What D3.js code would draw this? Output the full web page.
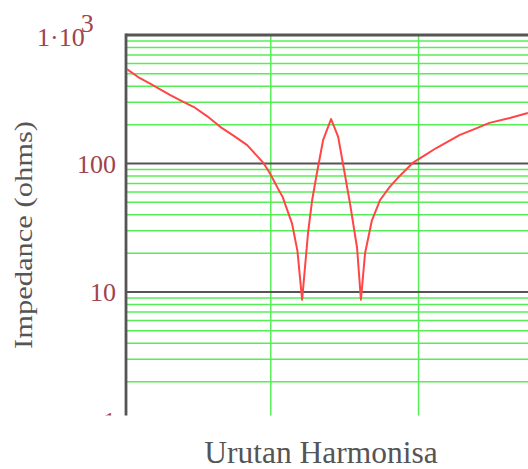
<!DOCTYPE html>
<html><head><meta charset="utf-8">
<script src="https://cdn.jsdelivr.net/npm/d3@7"></script>
<style>html,body{margin:0;padding:0;background:#fff;overflow:hidden}</style>
</head><body>
<svg id="c" width="528" height="469"></svg>
<script>
// Data
const harmonic = [0.13,0.51,0.9,1.6,1.99,2.4,2.84,3.3,3.75,4.2,4.75,4.97,5.24,5.4,5.72,5.9,6.06,6.26,6.4,6.56,6.77,7.04,7.28,7.5,7.68,7.92,8.05,8.19,8.42,8.7,9.03,9.27,9.8,10.22,10.6,11.4,11.91,12.4,13.09,13.7];
const impedance = [543,471,421,341,306,275,234,192,164,139,101,84,64,55,34,21,8.7,28.8,52,84,152,222,161,84,49,22,8.7,20,36,52,66,76,101,116,132,167,186,207,226,247];
const majorTicks = [1,10,100,1000];
const majorLabels = ["1","10","100","1·10"];
const xGrid = [5,10];

const svg = d3.select("#c");
const L = 126, T = 35, B = 420.5, R = 540, clipB = 415.5;
const x = d3.scaleLinear().domain([0.1,14]).range([L, L + 13.9*29.55]);
const y = d3.scaleLog().domain([1,1000]).range([B, T]);

svg.append("defs").append("clipPath").attr("id","clp")
  .append("rect").attr("x",0).attr("y",0).attr("width",528).attr("height",clipB);

const g = svg.append("g").attr("clip-path","url(#clp)");

// minor grid
const minor = [];
for (let d = 1; d < 1000; d *= 10) for (let k = 2; k <= 9; k++) minor.push(d*k);
g.selectAll(".mn").data(minor).enter().append("line")
  .attr("x1", L).attr("x2", R).attr("y1", d=>y(d)).attr("y2", d=>y(d))
  .attr("stroke","#55ee55").attr("stroke-width",1.5);
g.selectAll(".vg").data(xGrid).enter().append("line")
  .attr("x1", d=>x(d)).attr("x2", d=>x(d)).attr("y1", T).attr("y2", B)
  .attr("stroke","#55ee55").attr("stroke-width",1.5);
// major grid
g.selectAll(".mj").data([10,100]).enter().append("line")
  .attr("x1", L).attr("x2", R).attr("y1", d=>y(d)).attr("y2", d=>y(d))
  .attr("stroke","#555").attr("stroke-width",2.2);
// borders
g.append("line").attr("x1",L).attr("x2",R).attr("y1",y(1000)).attr("y2",y(1000))
  .attr("stroke","#555").attr("stroke-width",2.8);
g.append("line").attr("x1",L).attr("x2",L).attr("y1",T-1.4).attr("y2",B)
  .attr("stroke","#555").attr("stroke-width",2.8);

// curve
const line = d3.line().x((d,i)=>x(harmonic[i])).y(d=>y(d));
g.append("path").datum(impedance).attr("d", line)
  .attr("fill","none").attr("stroke","#ff4545").attr("stroke-width",2).attr("stroke-linejoin","round");

// tick labels
const tc = "#a0444c";
majorTicks.forEach((v,i)=>{
  if (v === 1000) {
    const t = g.append("text").attr("x", 37).attr("y", y(v)+11)
      .attr("font-family","Liberation Serif").attr("font-size",26).attr("fill",tc);
    t.append("tspan").text(majorLabels[i]);
    t.append("tspan").attr("dx",-4).attr("dy",-14).text("3");
  } else {
    g.append("text").attr("x", 116).attr("y", y(v)+9)
      .attr("text-anchor","end")
      .attr("font-family","Liberation Serif").attr("font-size",26).attr("fill",tc)
      .text(majorLabels[i]);
  }
});

// axis titles
svg.append("text").attr("transform","translate(32,235) rotate(-90)")
  .attr("text-anchor","middle").attr("font-family","Liberation Serif")
  .attr("font-size",26).attr("fill","#555")
  .attr("textLength",228).attr("lengthAdjust","spacingAndGlyphs")
  .text("Impedance (ohms)");
svg.append("text").attr("x",321).attr("y",463)
  .attr("text-anchor","middle").attr("font-family","Liberation Serif")
  .attr("font-size",31.5).attr("fill","#555")
  .text("Urutan Harmonisa");
</script>
</body></html>
